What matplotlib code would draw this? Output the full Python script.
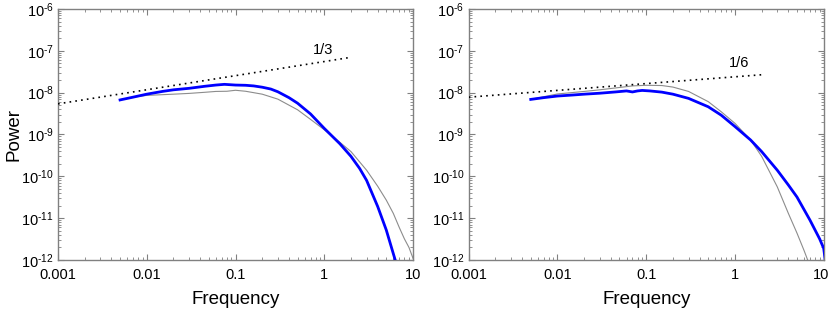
import numpy as np
import matplotlib
matplotlib.use("Agg")
import matplotlib.pyplot as plt
import matplotlib.transforms as mtransforms
from matplotlib.ticker import FixedLocator, LogLocator, NullFormatter

plt.rcParams['font.family'] = ['Liberation Sans', 'DejaVu Sans']
plt.rcParams['mathtext.fontset'] = 'custom'
plt.rcParams['mathtext.rm'] = 'Liberation Sans'
plt.rcParams['mathtext.it'] = 'Liberation Sans'

# panel izquierdo (pendiente 1/3)
f_azul_a = [0.005, 0.007, 0.01, 0.015, 0.02, 0.03, 0.045, 0.06, 0.075, 0.1, 0.13, 0.16,
            0.2, 0.25, 0.3, 0.4, 0.5, 0.7, 1.0, 1.5, 2.0, 2.5, 3.0, 4.0, 5.0, 6.3]
p_azul_a = [6.7e-9, 7.8e-9, 9.2e-9, 1.07e-8, 1.17e-8, 1.27e-8, 1.42e-8, 1.52e-8, 1.58e-8,
            1.52e-8, 1.5e-8, 1.45e-8, 1.35e-8, 1.22e-8, 1.05e-8, 7.6e-9, 5.6e-9, 3.1e-9,
            1.4e-9, 6.0e-10, 3.0e-10, 1.55e-10, 8.0e-11, 1.9e-11, 5.2e-12, 1.0e-12]
f_gris_a = [0.005, 0.007, 0.01, 0.02, 0.03, 0.045, 0.06, 0.08, 0.1, 0.13, 0.2, 0.3,
            0.5, 0.7, 1.0, 1.5, 2.0, 3.0, 4.0, 5.0, 6.0, 7.0, 8.0, 9.0, 10.0]
p_gris_a = [6.7e-9, 7.8e-9, 8.6e-9, 9.2e-9, 9.6e-9, 1.02e-8, 1.07e-8, 1.08e-8, 1.14e-8,
            1.08e-8, 9.2e-9, 7.0e-9, 3.9e-9, 2.3e-9, 1.3e-9, 6.5e-10, 3.9e-10, 1.4e-10,
            5.8e-11, 2.7e-11, 1.3e-11, 6.0e-12, 3.2e-12, 2.0e-12, 1.1e-12]
f_recta_a = [0.001, 2.0]
p_recta_a = [5.4e-9, 7.0e-8]

# panel derecho (pendiente 1/6)
f_azul_b = [0.005, 0.007, 0.01, 0.015, 0.02, 0.03, 0.045, 0.06, 0.07, 0.08, 0.09, 0.11,
            0.15, 0.2, 0.3, 0.5, 0.7, 1.0, 1.5, 2.0, 3.0, 4.0, 5.0, 7.0, 9.0, 10.0, 10.4]
p_azul_b = [6.9e-9, 7.6e-9, 8.3e-9, 8.8e-9, 9.2e-9, 9.7e-9, 1.04e-8, 1.1e-8, 1.04e-8,
            1.1e-8, 1.13e-8, 1.1e-8, 1.03e-8, 9.2e-9, 7.3e-9, 4.6e-9, 2.9e-9, 1.55e-9,
            7.4e-10, 3.9e-10, 1.4e-10, 6.2e-11, 3.2e-11, 9.0e-12, 3.2e-12, 1.9e-12, 1.0e-12]
f_gris_b = [0.005, 0.007, 0.01, 0.02, 0.03, 0.05, 0.07, 0.1, 0.15, 0.2, 0.3, 0.5, 0.7,
            1.0, 1.5, 2.0, 3.0, 4.0, 5.0, 6.0, 6.6]
p_gris_b = [6.9e-9, 8.0e-9, 9.3e-9, 1.07e-8, 1.17e-8, 1.33e-8, 1.45e-8, 1.5e-8, 1.48e-8,
            1.36e-8, 1.07e-8, 6.1e-9, 3.5e-9, 1.85e-9, 7.4e-10, 3.0e-10, 5.6e-11,
            1.3e-11, 4.4e-12, 1.7e-12, 1.0e-12]
f_recta_b = [0.001, 2.1]
p_recta_b = [7.8e-9, 2.7e-8]

paneles = [
    (f_azul_a, p_azul_a, f_gris_a, p_gris_a, f_recta_a, p_recta_a, "1/3", (0.97, 1.05e-7)),
    (f_azul_b, p_azul_b, f_gris_b, p_gris_b, f_recta_b, p_recta_b, "1/6", (1.1, 5.0e-8)),
]

xticks = [0.001, 0.01, 0.1, 1, 10]
xticklabels = ["0.001", "0.01", "0.1", "1", "10"]
yticks = [1e-12, 1e-11, 1e-10, 1e-9, 1e-8, 1e-7, 1e-6]
yticklabels = ["10$^{\u201012}$", "10$^{\u201011}$", "10$^{\u201010}$", "10$^{\u20109}$",
               "10$^{\u20108}$", "10$^{\u20107}$", "10$^{\u20106}$"]

fig = plt.figure(figsize=(8.3, 3.13), dpi=100)
posiciones = [[0.0699, 0.1693, 0.4277, 0.802], [0.5647, 0.1693, 0.4277, 0.802]]

for i, (fa, pa, fg, pg, fr, pr, txt, pos_txt) in enumerate(paneles):
    ax = fig.add_axes(posiciones[i])
    ax.set_xscale('log')
    ax.set_yscale('log')
    ax.plot(fg, pg, color='#8c8c8c', lw=0.8, zorder=2)
    ax.plot(fa, pa, color='#0000ff', lw=2.0, zorder=3)
    ax.plot(fr, pr, color='black', lw=1.2, linestyle=(0, (1, 2.5)), zorder=4)
    ax.text(pos_txt[0], pos_txt[1], txt, fontsize=10.5, ha='center', va='center')

    ax.set_xlim(0.001, 10)
    ax.set_ylim(1e-12, 1e-6)
    ax.xaxis.set_major_locator(FixedLocator(xticks))
    ax.set_xticklabels(xticklabels)
    ax.yaxis.set_major_locator(FixedLocator(yticks))
    ax.set_yticklabels(yticklabels)
    for eje in (ax.xaxis, ax.yaxis):
        eje.set_minor_locator(LogLocator(base=10, subs=np.arange(2, 10), numticks=20))
        eje.set_minor_formatter(NullFormatter())
    ax.tick_params(which='both', direction='in', top=True, right=True,
                   color='#808080', labelsize=10.5)
    ax.tick_params(axis='x', pad=6)
    ax.tick_params(axis='y', pad=3)
    ax.tick_params(which='major', length=4, width=0.8)
    ax.tick_params(which='minor', length=2, width=0.6)
    for s in ax.spines.values():
        s.set_color('#808080')
        s.set_linewidth(1.0)

    ax.set_xlabel("Frequency", fontsize=13.5, labelpad=6)
    if i == 0:
        ax.set_ylabel("Power", fontsize=13.5)
        ax.yaxis.set_label_coords(-0.1, 0.5)
    else:
        # el "10" final queda pegado al borde: lo corro un poco a la izquierda
        ultimo = ax.get_xticklabels()[-1]
        ultimo.set_transform(ultimo.get_transform() +
                             mtransforms.ScaledTranslation(-3 / 100, 0, fig.dpi_scale_trans))

fig.savefig("out.png", dpi=100)
